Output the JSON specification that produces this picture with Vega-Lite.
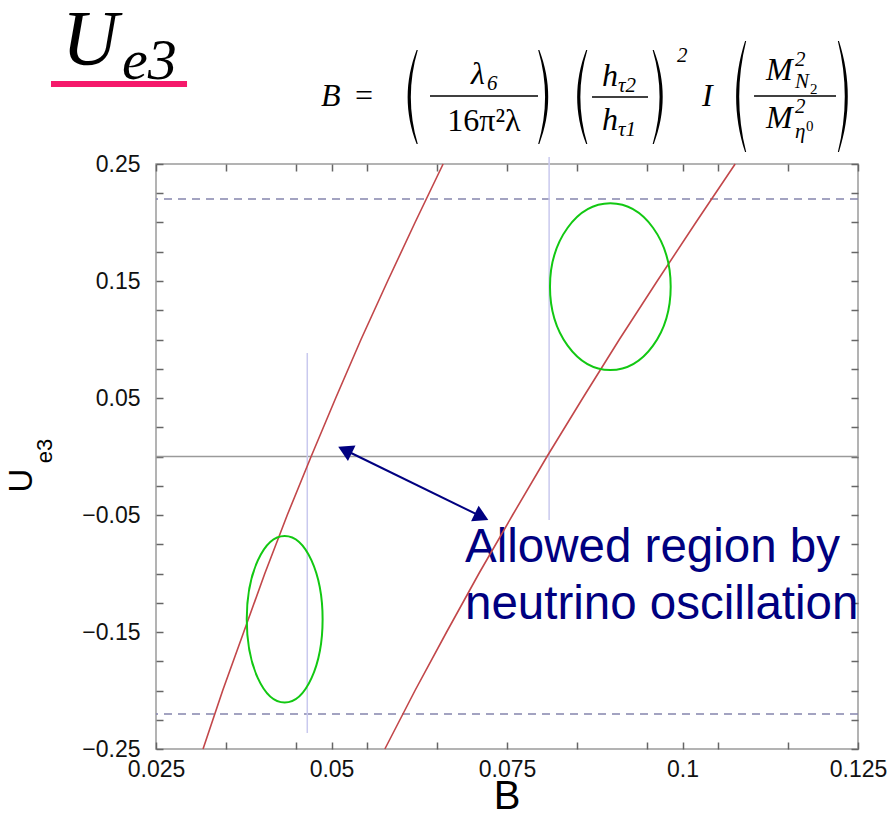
{
  "$schema": "https://vega.github.io/schema/vega-lite/v6.json",
  "autosize": {"type": "none"},
  "width": 702,
  "height": 585,
  "padding": {"left": 156, "top": 164, "right": 34, "bottom": 66},
  "background": "white",
  "config": {
    "view": {"stroke": "#9a9a9a", "strokeWidth": 1.5},
    "axis": {"domain": false, "grid": false, "ticks": true, "tickColor": "#666666", "tickWidth": 1.5, "title": null}
  },
  "resolve": {"axis": {"x": "independent", "y": "independent"}, "scale": {"shape": "independent"}},
  "layer": [
    {
      "data": {"values": [{"U": 0.22}, {"U": -0.22}]},
      "mark": {"type": "rule", "stroke": "#8585ad", "strokeWidth": 1.5, "strokeDash": [8, 6]},
      "encoding": {
        "y": {"field": "U", "type": "quantitative", "scale": {"domain": [-0.25, 0.25], "nice": false, "zero": false}, "axis": null}
      }
    },
    {
      "data": {"values": [{"U": 0}]},
      "mark": {"type": "rule", "stroke": "#9a9a9a", "strokeWidth": 1.5},
      "encoding": {
        "y": {"field": "U", "type": "quantitative", "scale": {"domain": [-0.25, 0.25], "nice": false, "zero": false}, "axis": null}
      }
    },
    {
      "data": {"values": [
        {"B": 0.04655, "U1": 0.0885, "U2": -0.2363},
        {"B": 0.0810, "U1": 0.256, "U2": -0.0543}
      ]},
      "mark": {"type": "rule", "stroke": "#c9c9ee", "strokeWidth": 1.5},
      "encoding": {
        "x": {"field": "B", "type": "quantitative", "scale": {"domain": [0.025, 0.125], "nice": false, "zero": false}, "axis": null},
        "y": {"field": "U1", "type": "quantitative", "scale": {"domain": [-0.25, 0.25], "nice": false, "zero": false}, "axis": null},
        "y2": {"field": "U2"}
      }
    },
    {
      "data": {"values": [{"label": "Allowed region by\nneutrino oscillation", "B": 0.06902, "U": -0.09017}]},
      "mark": {"type": "text", "font": "Liberation Sans", "fontSize": 47.5, "color": "#000080", "align": "left", "baseline": "alphabetic", "lineBreak": "\n", "lineHeight": 57},
      "encoding": {
        "x": {"field": "B", "type": "quantitative", "scale": {"domain": [0.025, 0.125], "nice": false, "zero": false}, "axis": null},
        "y": {"field": "U", "type": "quantitative", "scale": {"domain": [-0.25, 0.25], "nice": false, "zero": false}, "axis": null},
        "text": {"field": "label"}
      }
    },
    {
      "data": {"values": [
        {"curve": "c1", "U": -0.25, "B": 0.0317},
        {"curve": "c1", "U": -0.2, "B": 0.0345},
        {"curve": "c1", "U": -0.15, "B": 0.0375},
        {"curve": "c1", "U": -0.1, "B": 0.0405},
        {"curve": "c1", "U": -0.05, "B": 0.0437},
        {"curve": "c1", "U": 0, "B": 0.0471},
        {"curve": "c1", "U": 0.05, "B": 0.0506},
        {"curve": "c1", "U": 0.1, "B": 0.0542},
        {"curve": "c1", "U": 0.15, "B": 0.0580},
        {"curve": "c1", "U": 0.2, "B": 0.0619},
        {"curve": "c1", "U": 0.25, "B": 0.0659},
        {"curve": "c2", "U": -0.25, "B": 0.0576},
        {"curve": "c2", "U": -0.2, "B": 0.0619},
        {"curve": "c2", "U": -0.15, "B": 0.0664},
        {"curve": "c2", "U": -0.1, "B": 0.0710},
        {"curve": "c2", "U": -0.05, "B": 0.0758},
        {"curve": "c2", "U": 0, "B": 0.0807},
        {"curve": "c2", "U": 0.05, "B": 0.0858},
        {"curve": "c2", "U": 0.1, "B": 0.0910},
        {"curve": "c2", "U": 0.15, "B": 0.0964},
        {"curve": "c2", "U": 0.2, "B": 0.1019},
        {"curve": "c2", "U": 0.25, "B": 0.1075}
      ]},
      "mark": {"type": "line", "stroke": "#c2474a", "strokeWidth": 1.6},
      "encoding": {
        "x": {"field": "B", "type": "quantitative", "scale": {"domain": [0.025, 0.125], "nice": false, "zero": false},
          "axis": {"orient": "bottom", "values": [0.025, 0.035, 0.045, 0.05, 0.055, 0.065, 0.075, 0.085, 0.095, 0.1, 0.105, 0.115, 0.125],
            "labelExpr": "round(datum.value*1000) % 25 == 0 ? format(datum.value, '.3~f') : ''",
            "offset": -7, "tickSize": 7, "labelPadding": 9, "labelFlush": false, "labelOverlap": false,
            "labelFont": "Liberation Sans", "labelFontSize": 23, "labelColor": "#111"}},
        "y": {"field": "U", "type": "quantitative", "scale": {"domain": [-0.25, 0.25], "nice": false, "zero": false},
          "axis": {"orient": "left", "values": [-0.25, -0.225, -0.2, -0.175, -0.15, -0.125, -0.1, -0.075, -0.05, -0.025, 0, 0.025, 0.05, 0.075, 0.1, 0.125, 0.15, 0.175, 0.2, 0.225, 0.25],
            "labelExpr": "abs(round(datum.value*1000)) % 100 == 50 ? format(datum.value, '.2f') : ''",
            "offset": -7, "tickSize": 7, "labelPadding": 16, "labelFlush": false, "labelOverlap": false,
            "labelFont": "Liberation Sans", "labelFontSize": 23, "labelColor": "#111"}},
        "detail": {"field": "curve"},
        "order": {"field": "U", "type": "quantitative"}
      }
    },
    {
      "data": {"values": [{"B": 0.04333, "U": -0.1391}]},
      "mark": {"type": "point", "shape": "M-0.455,0C-0.455,-0.5523,-0.2513,-1,0,-1C0.2513,-1,0.455,-0.5523,0.455,0C0.455,0.5523,0.2513,1,0,1C-0.2513,1,-0.455,0.5523,-0.455,0Z", "size": 27800, "filled": false, "stroke": "#12c812", "strokeWidth": 2, "opacity": 1},
      "encoding": {
        "x": {"field": "B", "type": "quantitative", "scale": {"domain": [0.025, 0.125], "nice": false, "zero": false},
          "axis": {"orient": "top", "values": [0.025, 0.035, 0.045, 0.05, 0.055, 0.065, 0.075, 0.085, 0.095, 0.1, 0.105, 0.115, 0.125], "labels": false, "offset": -7, "tickSize": 7}},
        "y": {"field": "U", "type": "quantitative", "scale": {"domain": [-0.25, 0.25], "nice": false, "zero": false},
          "axis": {"orient": "right", "values": [-0.25, -0.225, -0.2, -0.175, -0.15, -0.125, -0.1, -0.075, -0.05, -0.025, 0, 0.025, 0.05, 0.075, 0.1, 0.125, 0.15, 0.175, 0.2, 0.225, 0.25], "labels": false, "offset": -7, "tickSize": 7}}
      }
    },
    {
      "data": {"values": [{"B": 0.08972, "U": 0.1451}]},
      "mark": {"type": "point", "shape": "M-0.724,0C-0.724,-0.5523,-0.3999,-1,0,-1C0.3999,-1,0.724,-0.5523,0.724,0C0.724,0.5523,0.3999,1,0,1C-0.3999,1,-0.724,0.5523,-0.724,0Z", "size": 27800, "filled": false, "stroke": "#12c812", "strokeWidth": 2, "opacity": 1},
      "encoding": {
        "x": {"field": "B", "type": "quantitative", "scale": {"domain": [0.025, 0.125], "nice": false, "zero": false}, "axis": null},
        "y": {"field": "U", "type": "quantitative", "scale": {"domain": [-0.25, 0.25], "nice": false, "zero": false}, "axis": null}
      }
    },
    {
      "data": {"values": [{"B1": 0.05192, "U1": 0.00556, "B2": 0.07138, "U2": -0.05145}]},
      "mark": {"type": "rule", "stroke": "#000080", "strokeWidth": 2},
      "encoding": {
        "x": {"field": "B1", "type": "quantitative", "scale": {"domain": [0.025, 0.125], "nice": false, "zero": false}, "axis": null},
        "y": {"field": "U1", "type": "quantitative", "scale": {"domain": [-0.25, 0.25], "nice": false, "zero": false}, "axis": null},
        "x2": {"field": "B2"},
        "y2": {"field": "U2"}
      }
    },
    {
      "data": {"values": [{"B": 0.05192, "U": 0.00556}]},
      "mark": {"type": "point", "shape": "triangle-left", "filled": true, "size": 300, "angle": 25.9, "color": "#000080", "opacity": 1},
      "encoding": {
        "x": {"field": "B", "type": "quantitative", "scale": {"domain": [0.025, 0.125], "nice": false, "zero": false}, "axis": null},
        "y": {"field": "U", "type": "quantitative", "scale": {"domain": [-0.25, 0.25], "nice": false, "zero": false}, "axis": null}
      }
    },
    {
      "data": {"values": [{"B": 0.07138, "U": -0.05145}]},
      "mark": {"type": "point", "shape": "triangle-right", "filled": true, "size": 300, "angle": 25.9, "color": "#000080", "opacity": 1},
      "encoding": {
        "x": {"field": "B", "type": "quantitative", "scale": {"domain": [0.025, 0.125], "nice": false, "zero": false}, "axis": null},
        "y": {"field": "U", "type": "quantitative", "scale": {"domain": [-0.25, 0.25], "nice": false, "zero": false}, "axis": null}
      }
    },
    {
      "data": {"values": [{"t": "B", "B": 0.075, "U": -0.30128}]},
      "mark": {"type": "text", "font": "Liberation Sans", "fontSize": 40, "color": "#000", "align": "center", "baseline": "alphabetic"},
      "encoding": {
        "x": {"field": "B", "type": "quantitative", "scale": {"domain": [0.025, 0.125], "nice": false, "zero": false}, "axis": null},
        "y": {"field": "U", "type": "quantitative", "scale": {"domain": [-0.25, 0.25], "nice": false, "zero": false}, "axis": null},
        "text": {"field": "t"}
      }
    },
    {
      "data": {"values": [{"t": "U", "B": 0.00591, "U": -0.0205}]},
      "mark": {"type": "text", "font": "Liberation Sans", "fontSize": 33, "color": "#000", "align": "center", "baseline": "middle", "angle": 270},
      "encoding": {
        "x": {"field": "B", "type": "quantitative", "scale": {"domain": [0.025, 0.125], "nice": false, "zero": false}, "axis": null},
        "y": {"field": "U", "type": "quantitative", "scale": {"domain": [-0.25, 0.25], "nice": false, "zero": false}, "axis": null},
        "text": {"field": "t"}
      }
    },
    {
      "data": {"values": [{"t": "e3", "B": 0.00919, "U": 0.0047}]},
      "mark": {"type": "text", "font": "Liberation Sans", "fontSize": 22, "color": "#000", "align": "center", "baseline": "middle", "angle": 270},
      "encoding": {
        "x": {"field": "B", "type": "quantitative", "scale": {"domain": [0.025, 0.125], "nice": false, "zero": false}, "axis": null},
        "y": {"field": "U", "type": "quantitative", "scale": {"domain": [-0.25, 0.25], "nice": false, "zero": false}, "axis": null},
        "text": {"field": "t"}
      }
    },
    {
      "data": {"values": [{"t": "U", "B": 0.01161, "U": 0.3355}]},
      "mark": {"type": "text", "font": "Liberation Serif", "fontStyle": "italic", "fontSize": 78, "color": "#000", "align": "left", "baseline": "alphabetic"},
      "encoding": {
        "x": {"field": "B", "type": "quantitative", "scale": {"domain": [0.025, 0.125], "nice": false, "zero": false}, "axis": null},
        "y": {"field": "U", "type": "quantitative", "scale": {"domain": [-0.25, 0.25], "nice": false, "zero": false}, "axis": null},
        "text": {"field": "t"}
      }
    },
    {
      "data": {"values": [{"t": "e3", "B": 0.02016, "U": 0.32265}]},
      "mark": {"type": "text", "font": "Liberation Serif", "fontStyle": "italic", "fontSize": 58, "color": "#000", "align": "left", "baseline": "alphabetic"},
      "encoding": {
        "x": {"field": "B", "type": "quantitative", "scale": {"domain": [0.025, 0.125], "nice": false, "zero": false}, "axis": null},
        "y": {"field": "U", "type": "quantitative", "scale": {"domain": [-0.25, 0.25], "nice": false, "zero": false}, "axis": null},
        "text": {"field": "t"}
      }
    },
    {
      "data": {"values": [
        {"B1": 0.01004, "B2": 0.02942, "U": 0.31838}
      ]},
      "mark": {"type": "rule", "stroke": "#f5196b", "strokeWidth": 6},
      "encoding": {
        "x": {"field": "B1", "type": "quantitative", "scale": {"domain": [0.025, 0.125], "nice": false, "zero": false}, "axis": null},
        "x2": {"field": "B2"},
        "y": {"field": "U", "type": "quantitative", "scale": {"domain": [-0.25, 0.25], "nice": false, "zero": false}, "axis": null}
      }
    },
    {
      "data": {"values": [
        {"B1": 0.06403, "B2": 0.07942, "U": 0.30812},
        {"B1": 0.08711, "B2": 0.09509, "U": 0.30726},
        {"B1": 0.11019, "B2": 0.12187, "U": 0.30812}
      ]},
      "mark": {"type": "rule", "stroke": "#000", "strokeWidth": 1.5},
      "encoding": {
        "x": {"field": "B1", "type": "quantitative", "scale": {"domain": [0.025, 0.125], "nice": false, "zero": false}, "axis": null},
        "x2": {"field": "B2"},
        "y": {"field": "U", "type": "quantitative", "scale": {"domain": [-0.25, 0.25], "nice": false, "zero": false}, "axis": null}
      }
    },
    {
      "data": {"values": [
        {"t": "B", "B": 0.0485, "U": 0.2996},
        {"t": "I", "B": 0.10278, "U": 0.2996},
        {"t": "λ", "B": 0.06987, "U": 0.31838},
        {"t": "h", "B": 0.08853, "U": 0.31667},
        {"t": "h", "B": 0.08853, "U": 0.27906},
        {"t": "M", "B": 0.11189, "U": 0.32179},
        {"t": "M", "B": 0.11189, "U": 0.28077}
      ]},
      "mark": {"type": "text", "font": "Liberation Serif", "fontStyle": "italic", "fontSize": 32, "color": "#000", "align": "left", "baseline": "alphabetic"},
      "encoding": {
        "x": {"field": "B", "type": "quantitative", "scale": {"domain": [0.025, 0.125], "nice": false, "zero": false}, "axis": null},
        "y": {"field": "U", "type": "quantitative", "scale": {"domain": [-0.25, 0.25], "nice": false, "zero": false}, "axis": null},
        "text": {"field": "t"}
      }
    },
    {
      "data": {"values": [
        {"t": "=", "B": 0.05463, "U": 0.2996},
        {"t": "16π²λ", "B": 0.07172, "U": 0.2782}
      ]},
      "mark": {"type": "text", "font": "Liberation Serif", "fontSize": 32, "color": "#000", "align": "center", "baseline": "alphabetic"},
      "encoding": {
        "x": {"field": "B", "type": "quantitative", "scale": {"domain": [0.025, 0.125], "nice": false, "zero": false}, "axis": null},
        "y": {"field": "U", "type": "quantitative", "scale": {"domain": [-0.25, 0.25], "nice": false, "zero": false}, "axis": null},
        "text": {"field": "t"}
      }
    },
    {
      "data": {"values": [
        {"t": "6", "B": 0.07215, "U": 0.31325},
        {"t": "τ2", "B": 0.09081, "U": 0.31154},
        {"t": "τ1", "B": 0.09081, "U": 0.27393},
        {"t": "2", "B": 0.09922, "U": 0.33718},
        {"t": "2", "B": 0.11603, "U": 0.33376},
        {"t": "N", "B": 0.11603, "U": 0.31496},
        {"t": "2", "B": 0.11603, "U": 0.29359},
        {"t": "η", "B": 0.11603, "U": 0.27222}
      ]},
      "mark": {"type": "text", "font": "Liberation Serif", "fontStyle": "italic", "fontSize": 21, "color": "#000", "align": "left", "baseline": "alphabetic"},
      "encoding": {
        "x": {"field": "B", "type": "quantitative", "scale": {"domain": [0.025, 0.125], "nice": false, "zero": false}, "axis": null},
        "y": {"field": "U", "type": "quantitative", "scale": {"domain": [-0.25, 0.25], "nice": false, "zero": false}, "axis": null},
        "text": {"field": "t"}
      }
    },
    {
      "data": {"values": [
        {"t": "2", "B": 0.11816, "U": 0.30983},
        {"t": "0", "B": 0.11759, "U": 0.27821}
      ]},
      "mark": {"type": "text", "font": "Liberation Serif", "fontSize": 15, "color": "#000", "align": "left", "baseline": "alphabetic"},
      "encoding": {
        "x": {"field": "B", "type": "quantitative", "scale": {"domain": [0.025, 0.125], "nice": false, "zero": false}, "axis": null},
        "y": {"field": "U", "type": "quantitative", "scale": {"domain": [-0.25, 0.25], "nice": false, "zero": false}, "axis": null},
        "text": {"field": "t"}
      }
    },
    {
      "data": {"values": [
        {"B": 0.06132, "U": 0.30726},
        {"B": 0.08547, "U": 0.30726}
      ]},
      "mark": {"type": "point", "shape": "M0.12,-1C-0.1333,-0.3333,-0.1333,0.3333,0.12,1L0.145,1C-0.0517,0.3333,-0.0517,-0.3333,0.145,-1Z", "filled": true, "size": 8836, "color": "#000", "opacity": 1},
      "encoding": {
        "x": {"field": "B", "type": "quantitative", "scale": {"domain": [0.025, 0.125], "nice": false, "zero": false}, "axis": null},
        "y": {"field": "U", "type": "quantitative", "scale": {"domain": [-0.25, 0.25], "nice": false, "zero": false}, "axis": null}
      }
    },
    {
      "data": {"values": [
        {"B": 0.08041, "U": 0.30726},
        {"B": 0.09672, "U": 0.30726}
      ]},
      "mark": {"type": "point", "shape": "M-0.12,-1C0.1333,-0.3333,0.1333,0.3333,-0.12,1L-0.145,1C0.0517,0.3333,0.0517,-0.3333,-0.145,-1Z", "filled": true, "size": 8836, "color": "#000", "opacity": 1},
      "encoding": {
        "x": {"field": "B", "type": "quantitative", "scale": {"domain": [0.025, 0.125], "nice": false, "zero": false}, "axis": null},
        "y": {"field": "U", "type": "quantitative", "scale": {"domain": [-0.25, 0.25], "nice": false, "zero": false}, "axis": null}
      }
    },
    {
      "data": {"values": [{"B": 0.10812, "U": 0.3077}]},
      "mark": {"type": "point", "shape": "M0.1,-1C-0.1133,-0.3333,-0.1133,0.3333,0.1,1L0.12,1C-0.0467,0.3333,-0.0467,-0.3333,0.12,-1Z", "filled": true, "size": 12321, "color": "#000", "opacity": 1},
      "encoding": {
        "x": {"field": "B", "type": "quantitative", "scale": {"domain": [0.025, 0.125], "nice": false, "zero": false}, "axis": null},
        "y": {"field": "U", "type": "quantitative", "scale": {"domain": [-0.25, 0.25], "nice": false, "zero": false}, "axis": null}
      }
    },
    {
      "data": {"values": [{"B": 0.12308, "U": 0.3077}]},
      "mark": {"type": "point", "shape": "M-0.1,-1C0.1133,-0.3333,0.1133,0.3333,-0.1,1L-0.12,1C0.0467,0.3333,0.0467,-0.3333,-0.12,-1Z", "filled": true, "size": 12321, "color": "#000", "opacity": 1},
      "encoding": {
        "x": {"field": "B", "type": "quantitative", "scale": {"domain": [0.025, 0.125], "nice": false, "zero": false}, "axis": null},
        "y": {"field": "U", "type": "quantitative", "scale": {"domain": [-0.25, 0.25], "nice": false, "zero": false}, "axis": null}
      }
    }
  ]
}
